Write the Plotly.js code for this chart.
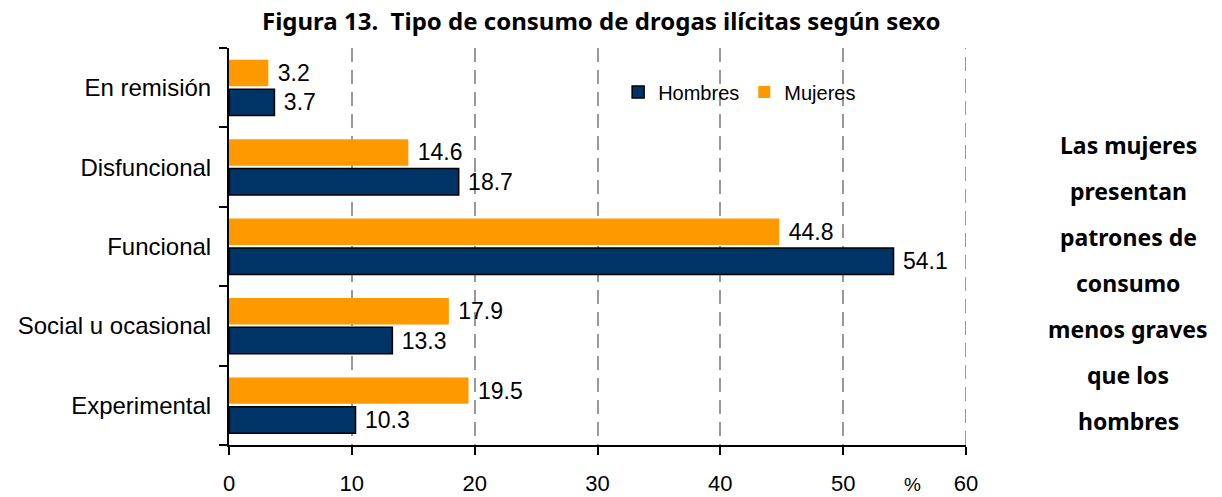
<!DOCTYPE html>
<html><head><meta charset="utf-8">
<script src="https://cdn.plot.ly/plotly-3.0.1.min.js"></script>
<style>body{margin:0;background:#fff}#c{width:1222px;height:497px}</style>
</head><body><div id="c"></div>
<script>
const categories = ["Experimental", "Social u ocasional", "Funcional", "Disfuncional", "En remisión"];
const hombres = [10.3, 13.3, 54.1, 18.7, 3.7];
const mujeres = [19.5, 17.9, 44.8, 14.6, 3.2];
const xTicks = [0, 10, 20, 30, 40, 50, 60];
const sideNote = ["Las mujeres", "presentan", "patrones de", "consumo", "menos graves", "que los", "hombres"];

const ARIAL = "Liberation Sans, Arial, sans-serif";
const fmt = v => "\u00a0" + v.toFixed(1);
const traces = [
  {type: "bar", orientation: "h", name: "Hombres", y: categories, x: hombres,
   marker: {color: "#003366", line: {color: "#000", width: 1.5}},
   text: hombres.map(fmt), textposition: "outside", cliponaxis: false, constraintext: "none",
   textfont: {family: ARIAL, size: 23, color: "#000"}},
  {type: "bar", orientation: "h", name: "Mujeres", y: categories, x: mujeres,
   marker: {color: "#FF9900", line: {color: "#FF9900", width: 0}},
   text: mujeres.map(fmt), textposition: "outside", cliponaxis: false, constraintext: "none",
   textfont: {family: ARIAL, size: 23, color: "#000"}}
];

const ann = [{xref: "paper", yref: "paper", x: (912 - 229) / 737, y: (445 - 484) / 397, text: "%", showarrow: false,
  font: {family: ARIAL, size: 19, color: "#000"}, xanchor: "center", yanchor: "middle"}];
sideNote.forEach((t, i) => {
  ann.push({xref: "paper", yref: "paper", x: (1128 - 229) / 737, y: (445 - (145 + i * 46)) / 397,
    text: "<b>" + t + "</b>", showarrow: false, xanchor: "center", yanchor: "middle",
    font: {family: "Noto Sans, sans-serif", size: 23, color: "#000"}});
});

const lastTick = xTicks[xTicks.length - 1];
const shapes = [{type: "line", xref: "x", yref: "paper", x0: lastTick, x1: lastTick, y0: 0, y1: 1, layer: "below",
  line: {color: "#999", width: 2, dash: "14px,8px"}}];

const layout = {
  width: 1222, height: 497,
  margin: {l: 229, r: 256, t: 48, b: 52},
  paper_bgcolor: "#fff", plot_bgcolor: "#fff",
  barmode: "group", bargap: 0.26, bargroupgap: 0.1,
  showlegend: true,
  legend: {orientation: "h", x: 0.528, y: (445 - 92) / 397, xanchor: "left", yanchor: "middle",
    font: {family: ARIAL, size: 20, color: "#000"}, traceorder: "normal",
    bgcolor: "rgba(0,0,0,0)"},
  title: {text: "<b>Figura 13.  Tipo de consumo de drogas ilícitas según sexo</b>", x: 0.492, xanchor: "center", y: 0.956, yanchor: "middle",
    font: {family: "Noto Sans, sans-serif", size: 24, color: "#000"}},
  xaxis: {range: [0, 60], tickvals: xTicks, ticktext: xTicks.map(String), showgrid: true,
    gridcolor: "#999", griddash: "14px,8px", gridwidth: 2, zeroline: false,
    showline: true, linecolor: "#000", linewidth: 2, ticks: "outside", ticklen: 8, tickwidth: 2, tickcolor: "#000",
    ticklabelstandoff: 10,
    tickfont: {family: ARIAL, size: 22, color: "#000"}, fixedrange: true},
  yaxis: {type: "category", categoryorder: "array", categoryarray: categories,
    showline: true, linecolor: "#000", linewidth: 2, ticks: "outside", ticklen: 8, tickwidth: 2, tickcolor: "#000",
    tickson: "boundaries", showgrid: false, ticklabelstandoff: 11,
    tickfont: {family: ARIAL, size: 24, color: "#000"}, fixedrange: true},
  shapes: shapes,
  annotations: ann
};
Plotly.newPlot("c", traces, layout, {displayModeBar: false, staticPlot: true});
</script></body></html>
